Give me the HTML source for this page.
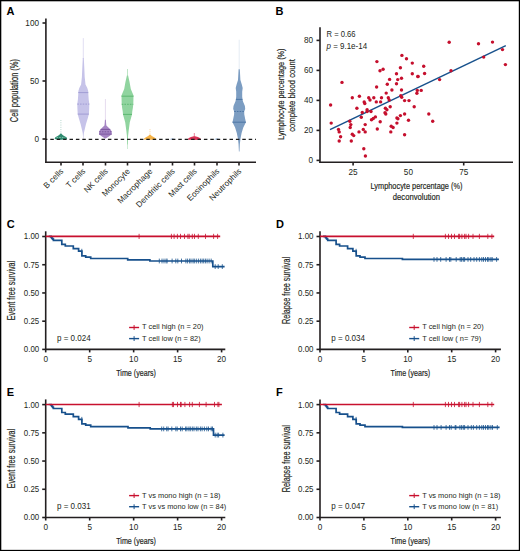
<!DOCTYPE html>
<html><head><meta charset="utf-8"><style>
html,body{margin:0;padding:0;background:#fff;}
svg{display:block;}
text{font-family:"Liberation Sans", sans-serif;}
</style></head><body>
<svg width="520" height="551" viewBox="0 0 520 551">
<rect x="0" y="0" width="520" height="551" fill="#fff"/>
<text x="6.40" y="15.00" font-size="11" fill="#000" font-weight="bold">A</text>
<line x1="45.90" y1="18.50" x2="45.90" y2="162.90" stroke="#231f20" stroke-width="1.6" />
<line x1="42.50" y1="23.00" x2="46.00" y2="23.00" stroke="#231f20" stroke-width="1.6" />
<text x="39.00" y="25.90" font-size="8.2" fill="#231f20" text-anchor="end">100</text>
<line x1="42.50" y1="81.00" x2="46.00" y2="81.00" stroke="#231f20" stroke-width="1.6" />
<text x="39.00" y="83.90" font-size="8.2" fill="#231f20" text-anchor="end">50</text>
<line x1="42.50" y1="139.00" x2="46.00" y2="139.00" stroke="#231f20" stroke-width="1.6" />
<text x="39.00" y="141.90" font-size="8.2" fill="#231f20" text-anchor="end">0</text>
<text x="18.00" y="90.60" font-size="10.4" fill="#231f20" text-anchor="middle" textLength="63.20" lengthAdjust="spacingAndGlyphs" transform="rotate(-90 18.00 90.60)" style="stroke:#231f20;stroke-width:0.18">Cell population (%)</text>
<line x1="45.20" y1="162.20" x2="256.00" y2="162.20" stroke="#231f20" stroke-width="1.6" />
<line x1="61.00" y1="162.00" x2="61.00" y2="165.50" stroke="#231f20" stroke-width="1.6" />
<text x="63.90" y="171.90" font-size="8.2" fill="#231f20" text-anchor="end" transform="rotate(-45 63.90 171.90)">B cells</text>
<line x1="83.00" y1="162.00" x2="83.00" y2="165.50" stroke="#231f20" stroke-width="1.6" />
<text x="85.90" y="171.90" font-size="8.2" fill="#231f20" text-anchor="end" transform="rotate(-45 85.90 171.90)">T cells</text>
<line x1="105.50" y1="162.00" x2="105.50" y2="165.50" stroke="#231f20" stroke-width="1.6" />
<text x="108.40" y="171.90" font-size="8.2" fill="#231f20" text-anchor="end" transform="rotate(-45 108.40 171.90)">NK cells</text>
<line x1="127.50" y1="162.00" x2="127.50" y2="165.50" stroke="#231f20" stroke-width="1.6" />
<text x="130.40" y="171.90" font-size="8.2" fill="#231f20" text-anchor="end" transform="rotate(-45 130.40 171.90)">Monocyte</text>
<line x1="150.00" y1="162.00" x2="150.00" y2="165.50" stroke="#231f20" stroke-width="1.6" />
<text x="152.90" y="171.90" font-size="8.2" fill="#231f20" text-anchor="end" transform="rotate(-45 152.90 171.90)">Macrophage</text>
<line x1="172.50" y1="162.00" x2="172.50" y2="165.50" stroke="#231f20" stroke-width="1.6" />
<text x="175.40" y="171.90" font-size="8.2" fill="#231f20" text-anchor="end" transform="rotate(-45 175.40 171.90)">Dendritic cells</text>
<line x1="194.50" y1="162.00" x2="194.50" y2="165.50" stroke="#231f20" stroke-width="1.6" />
<text x="197.40" y="171.90" font-size="8.2" fill="#231f20" text-anchor="end" transform="rotate(-45 197.40 171.90)">Mast cells</text>
<line x1="217.00" y1="162.00" x2="217.00" y2="165.50" stroke="#231f20" stroke-width="1.6" />
<text x="219.90" y="171.90" font-size="8.2" fill="#231f20" text-anchor="end" transform="rotate(-45 219.90 171.90)">Eosinophils</text>
<line x1="239.00" y1="162.00" x2="239.00" y2="165.50" stroke="#231f20" stroke-width="1.6" />
<text x="241.90" y="171.90" font-size="8.2" fill="#231f20" text-anchor="end" transform="rotate(-45 241.90 171.90)">Neutrophils</text>
<line x1="83.30" y1="38.10" x2="83.30" y2="59.00" stroke="#c8c5ea" stroke-width="1.0" stroke-opacity="0.55"/>
<path d="M82.80,58.00 L82.30,68.00 L81.90,77.00 L81.10,84.50 L79.30,88.00 L78.40,91.00 L78.20,95.00 L77.90,99.50 L77.30,104.00 L77.40,108.60 L77.70,114.00 L78.90,118.60 L80.60,124.00 L81.90,129.50 L82.70,133.00 L83.00,136.00 L83.10,139.00 L83.50,139.00 L83.60,136.00 L83.90,133.00 L84.70,129.50 L86.00,124.00 L87.70,118.60 L88.90,114.00 L89.20,108.60 L89.30,104.00 L88.70,99.50 L88.40,95.00 L88.20,91.00 L87.30,88.00 L85.50,84.50 L84.70,77.00 L84.30,68.00 L83.80,58.00Z" fill="#c6c3e9" fill-opacity="1.0"/>
<line x1="78.32" y1="92.60" x2="88.28" y2="92.60" stroke="#a19dd4" stroke-width="1.0" />
<line x1="77.30" y1="104.10" x2="89.30" y2="104.10" stroke="#a19dd4" stroke-width="1.0" stroke-dasharray="1.6 1.1"/>
<line x1="77.73" y1="114.10" x2="88.87" y2="114.10" stroke="#a19dd4" stroke-width="1.0" />
<line x1="105.40" y1="99.00" x2="105.40" y2="121.00" stroke="#b59ad0" stroke-width="0.8" stroke-opacity="0.45"/>
<path d="M104.95,119.70 L104.70,123.00 L104.45,125.40 L102.60,127.30 L100.70,129.20 L99.30,131.00 L99.00,134.30 L101.90,136.50 L105.10,138.60 L105.70,138.60 L108.90,136.50 L111.80,134.30 L111.50,131.00 L110.10,129.20 L108.20,127.30 L106.35,125.40 L106.10,123.00 L105.85,119.70Z" fill="#a585c3" fill-opacity="1.0"/>
<line x1="100.54" y1="129.40" x2="110.26" y2="129.40" stroke="#7b569e" stroke-width="1.0" />
<line x1="99.23" y1="131.80" x2="111.57" y2="131.80" stroke="#7b569e" stroke-width="1.0" stroke-dasharray="1.6 1.1"/>
<line x1="99.02" y1="134.10" x2="111.78" y2="134.10" stroke="#7b569e" stroke-width="1.0" />
<line x1="127.50" y1="69.00" x2="127.50" y2="76.00" stroke="#92d3a0" stroke-width="1.0" stroke-opacity="0.6"/>
<line x1="127.50" y1="136.00" x2="127.50" y2="149.00" stroke="#92d3a0" stroke-width="0.9" stroke-opacity="0.5"/>
<path d="M126.90,75.60 L125.50,81.80 L124.20,89.00 L122.10,94.10 L121.50,95.60 L121.60,100.00 L121.70,104.00 L122.10,107.70 L122.70,111.30 L123.00,114.50 L125.20,122.30 L126.40,131.30 L126.90,135.80 L127.20,144.50 L127.80,144.50 L128.10,135.80 L128.60,131.30 L129.80,122.30 L132.00,114.50 L132.30,111.30 L132.90,107.70 L133.30,104.00 L133.40,100.00 L133.50,95.60 L132.90,94.10 L130.80,89.00 L129.50,81.80 L128.10,75.60Z" fill="#90d49f" fill-opacity="1.0"/>
<line x1="121.51" y1="96.20" x2="133.49" y2="96.20" stroke="#5db871" stroke-width="1.0" />
<line x1="121.73" y1="104.30" x2="133.27" y2="104.30" stroke="#5db871" stroke-width="1.0" stroke-dasharray="1.6 1.1"/>
<line x1="122.99" y1="114.40" x2="132.01" y2="114.40" stroke="#5db871" stroke-width="1.0" />
<line x1="60.90" y1="120.00" x2="60.90" y2="133.80" stroke="#3a9277" stroke-width="0.9" stroke-opacity="0.45" stroke-dasharray="0.9 1.4"/>
<path d="M60.40,133.50 L59.70,134.50 L58.10,135.80 L55.30,137.30 L54.60,138.90 L57.90,139.50 L60.40,139.70 L61.40,139.70 L63.90,139.50 L67.20,138.90 L66.50,137.30 L63.70,135.80 L62.10,134.50 L61.40,133.50Z" fill="#2f8b70" fill-opacity="1.0"/>
<line x1="56.50" y1="137.50" x2="65.30" y2="137.50" stroke="#8cc9b5" stroke-width="0.8" stroke-dasharray="1.6 1.1"/>
<line x1="150.00" y1="129.10" x2="150.00" y2="135.00" stroke="#f4b04a" stroke-width="0.9" stroke-opacity="0.5" stroke-dasharray="1 0.8"/>
<path d="M149.50,134.80 L148.20,135.90 L145.90,137.30 L144.10,138.40 L143.90,139.40 L149.50,139.70 L150.50,139.70 L156.10,139.40 L155.90,138.40 L154.10,137.30 L151.80,135.90 L150.50,134.80Z" fill="#f6b347" fill-opacity="1.0"/>
<path d="M172.00,138.20 L169.30,139.20 L172.00,139.80 L172.60,139.80 L175.30,139.20 L172.60,138.20Z" fill="#a8c0dc" fill-opacity="1.0"/>
<line x1="194.30" y1="133.00" x2="194.30" y2="137.00" stroke="#d9214a" stroke-width="0.8" stroke-opacity="0.7"/>
<path d="M193.80,136.20 L190.90,136.90 L188.40,138.20 L188.10,139.70 L194.00,140.10 L194.80,140.10 L200.70,139.70 L200.40,138.20 L197.90,136.90 L195.00,136.20Z" fill="#d93356" fill-opacity="1.0"/>
<path d="M216.60,138.20 L213.90,139.20 L216.60,139.80 L217.20,139.80 L219.90,139.20 L217.20,138.20Z" fill="#a9c4e3" fill-opacity="1.0"/>
<line x1="239.20" y1="39.70" x2="239.20" y2="69.50" stroke="#7b9fc7" stroke-width="0.9" stroke-opacity="0.22"/>
<path d="M238.60,69.20 L238.00,79.90 L236.60,84.60 L235.70,88.10 L236.20,91.70 L236.20,96.40 L235.90,99.40 L235.40,101.50 L233.50,105.90 L233.20,109.10 L234.20,111.50 L234.10,114.60 L233.20,118.90 L232.50,122.20 L235.10,127.60 L236.80,133.10 L237.90,138.50 L238.55,144.00 L238.90,151.60 L239.50,151.60 L239.85,144.00 L240.50,138.50 L241.60,133.10 L243.30,127.60 L245.90,122.20 L245.20,118.90 L244.30,114.60 L244.20,111.50 L245.20,109.10 L244.90,105.90 L243.00,101.50 L242.50,99.40 L242.20,96.40 L242.20,91.70 L242.70,88.10 L241.80,84.60 L240.40,79.90 L239.80,69.20Z" fill="#7c9dc2" fill-opacity="1.0"/>
<line x1="235.90" y1="99.40" x2="242.50" y2="99.40" stroke="#4d76a5" stroke-width="1.0" />
<line x1="234.20" y1="111.50" x2="244.20" y2="111.50" stroke="#4d76a5" stroke-width="1.0" stroke-dasharray="1.6 1.1"/>
<line x1="232.50" y1="122.20" x2="245.90" y2="122.20" stroke="#4d76a5" stroke-width="1.0" />
<line x1="46.00" y1="139.40" x2="256.00" y2="139.40" stroke="#1a1a1a" stroke-width="1.25" stroke-dasharray="3.5 2.9" stroke-dashoffset="2.1"/>
<text x="275.50" y="15.00" font-size="11" fill="#000" font-weight="bold">B</text>
<line x1="320.00" y1="27.20" x2="320.00" y2="162.90" stroke="#231f20" stroke-width="1.6" />
<line x1="316.50" y1="160.40" x2="320.00" y2="160.40" stroke="#231f20" stroke-width="1.6" />
<text x="313.00" y="163.30" font-size="8.2" fill="#231f20" text-anchor="end">0</text>
<line x1="316.50" y1="130.40" x2="320.00" y2="130.40" stroke="#231f20" stroke-width="1.6" />
<text x="313.00" y="133.30" font-size="8.2" fill="#231f20" text-anchor="end">20</text>
<line x1="316.50" y1="100.40" x2="320.00" y2="100.40" stroke="#231f20" stroke-width="1.6" />
<text x="313.00" y="103.30" font-size="8.2" fill="#231f20" text-anchor="end">40</text>
<line x1="316.50" y1="70.40" x2="320.00" y2="70.40" stroke="#231f20" stroke-width="1.6" />
<text x="313.00" y="73.30" font-size="8.2" fill="#231f20" text-anchor="end">60</text>
<line x1="316.50" y1="40.40" x2="320.00" y2="40.40" stroke="#231f20" stroke-width="1.6" />
<text x="313.00" y="43.30" font-size="8.2" fill="#231f20" text-anchor="end">80</text>
<line x1="319.30" y1="162.20" x2="513.00" y2="162.20" stroke="#231f20" stroke-width="1.6" />
<line x1="353.10" y1="162.00" x2="353.10" y2="165.50" stroke="#231f20" stroke-width="1.6" />
<text x="353.10" y="174.70" font-size="8.2" fill="#231f20" text-anchor="middle">25</text>
<text x="408.40" y="174.70" font-size="8.2" fill="#231f20" text-anchor="middle">50</text>
<line x1="463.70" y1="162.00" x2="463.70" y2="165.50" stroke="#231f20" stroke-width="1.6" />
<text x="463.70" y="174.70" font-size="8.2" fill="#231f20" text-anchor="middle">75</text>
<text x="284.00" y="94.10" font-size="9.4" fill="#231f20" text-anchor="middle" textLength="91.30" lengthAdjust="spacingAndGlyphs" transform="rotate(-90 284.00 94.10)" style="stroke:#231f20;stroke-width:0.18">Lymphocyte percentage (%)</text>
<text x="295.50" y="95.40" font-size="9.4" fill="#231f20" text-anchor="middle" textLength="72.80" lengthAdjust="spacingAndGlyphs" transform="rotate(-90 295.50 95.40)" style="stroke:#231f20;stroke-width:0.18">complete blood count</text>
<text x="416.50" y="188.80" font-size="9.4" fill="#231f20" text-anchor="middle" textLength="92.00" lengthAdjust="spacingAndGlyphs" style="stroke:#231f20;stroke-width:0.18">Lymphocyte percentage (%)</text>
<text x="416.40" y="199.70" font-size="9.4" fill="#231f20" text-anchor="middle" textLength="47.20" lengthAdjust="spacingAndGlyphs" style="stroke:#231f20;stroke-width:0.18">deconvolution</text>
<text x="326.50" y="37.00" font-size="8.2" fill="#231f20" textLength="29.10" lengthAdjust="spacingAndGlyphs">R = 0.66</text>
<text x="326.5" y="49" font-size="8.2" fill="#231f20" textLength="40.6" lengthAdjust="spacingAndGlyphs"><tspan font-style="italic">p</tspan> = 9.1e-14</text>
<line x1="330.00" y1="129.60" x2="505.80" y2="45.60" stroke="#17518c" stroke-width="1.5" />
<circle cx="376.9" cy="61.6" r="1.7" fill="#c50f2d"/>
<circle cx="380.0" cy="70.7" r="1.7" fill="#c50f2d"/>
<circle cx="383.1" cy="69.2" r="1.7" fill="#c50f2d"/>
<circle cx="342.0" cy="82.4" r="1.7" fill="#c50f2d"/>
<circle cx="376.6" cy="87.0" r="1.7" fill="#c50f2d"/>
<circle cx="401.9" cy="55.4" r="1.7" fill="#c50f2d"/>
<circle cx="406.5" cy="58.7" r="1.7" fill="#c50f2d"/>
<circle cx="412.3" cy="63.1" r="1.7" fill="#c50f2d"/>
<circle cx="400.4" cy="67.7" r="1.7" fill="#c50f2d"/>
<circle cx="396.5" cy="73.7" r="1.7" fill="#c50f2d"/>
<circle cx="412.3" cy="73.7" r="1.7" fill="#c50f2d"/>
<circle cx="418.0" cy="76.5" r="1.7" fill="#c50f2d"/>
<circle cx="389.6" cy="79.4" r="1.7" fill="#c50f2d"/>
<circle cx="397.7" cy="79.6" r="1.7" fill="#c50f2d"/>
<circle cx="401.5" cy="78.3" r="1.7" fill="#c50f2d"/>
<circle cx="387.3" cy="84.2" r="1.7" fill="#c50f2d"/>
<circle cx="396.5" cy="83.8" r="1.7" fill="#c50f2d"/>
<circle cx="391.9" cy="90.0" r="1.7" fill="#c50f2d"/>
<circle cx="401.5" cy="90.0" r="1.7" fill="#c50f2d"/>
<circle cx="386.2" cy="93.1" r="1.7" fill="#c50f2d"/>
<circle cx="449.2" cy="42.3" r="1.7" fill="#c50f2d"/>
<circle cx="478.5" cy="43.7" r="1.7" fill="#c50f2d"/>
<circle cx="492.5" cy="42.1" r="1.7" fill="#c50f2d"/>
<circle cx="502.5" cy="49.6" r="1.7" fill="#c50f2d"/>
<circle cx="483.7" cy="57.1" r="1.7" fill="#c50f2d"/>
<circle cx="505.4" cy="64.6" r="1.7" fill="#c50f2d"/>
<circle cx="423.7" cy="66.2" r="1.7" fill="#c50f2d"/>
<circle cx="417.9" cy="76.5" r="1.7" fill="#c50f2d"/>
<circle cx="424.6" cy="73.5" r="1.7" fill="#c50f2d"/>
<circle cx="451.0" cy="70.8" r="1.7" fill="#c50f2d"/>
<circle cx="439.6" cy="79.6" r="1.7" fill="#c50f2d"/>
<circle cx="421.2" cy="90.4" r="1.7" fill="#c50f2d"/>
<circle cx="417.3" cy="90.4" r="1.7" fill="#c50f2d"/>
<circle cx="416.9" cy="93.3" r="1.7" fill="#c50f2d"/>
<circle cx="330.6" cy="105.0" r="1.7" fill="#c50f2d"/>
<circle cx="331.2" cy="123.1" r="1.7" fill="#c50f2d"/>
<circle cx="352.3" cy="97.7" r="1.7" fill="#c50f2d"/>
<circle cx="359.4" cy="96.2" r="1.7" fill="#c50f2d"/>
<circle cx="368.7" cy="97.7" r="1.7" fill="#c50f2d"/>
<circle cx="373.8" cy="97.7" r="1.7" fill="#c50f2d"/>
<circle cx="381.5" cy="97.7" r="1.7" fill="#c50f2d"/>
<circle cx="388.3" cy="97.7" r="1.7" fill="#c50f2d"/>
<circle cx="389.2" cy="100.0" r="1.7" fill="#c50f2d"/>
<circle cx="400.8" cy="95.8" r="1.7" fill="#c50f2d"/>
<circle cx="401.7" cy="97.3" r="1.7" fill="#c50f2d"/>
<circle cx="404.6" cy="100.6" r="1.7" fill="#c50f2d"/>
<circle cx="409.0" cy="100.6" r="1.7" fill="#c50f2d"/>
<circle cx="414.2" cy="106.7" r="1.7" fill="#c50f2d"/>
<circle cx="364.2" cy="101.9" r="1.7" fill="#c50f2d"/>
<circle cx="364.8" cy="103.5" r="1.7" fill="#c50f2d"/>
<circle cx="370.0" cy="100.0" r="1.7" fill="#c50f2d"/>
<circle cx="376.3" cy="101.9" r="1.7" fill="#c50f2d"/>
<circle cx="380.6" cy="101.9" r="1.7" fill="#c50f2d"/>
<circle cx="356.9" cy="108.3" r="1.7" fill="#c50f2d"/>
<circle cx="362.3" cy="112.5" r="1.7" fill="#c50f2d"/>
<circle cx="367.1" cy="109.8" r="1.7" fill="#c50f2d"/>
<circle cx="367.1" cy="111.5" r="1.7" fill="#c50f2d"/>
<circle cx="371.0" cy="111.5" r="1.7" fill="#c50f2d"/>
<circle cx="385.4" cy="108.3" r="1.7" fill="#c50f2d"/>
<circle cx="386.9" cy="109.8" r="1.7" fill="#c50f2d"/>
<circle cx="390.2" cy="106.7" r="1.7" fill="#c50f2d"/>
<circle cx="385.0" cy="112.7" r="1.7" fill="#c50f2d"/>
<circle cx="385.8" cy="114.0" r="1.7" fill="#c50f2d"/>
<circle cx="361.3" cy="117.3" r="1.7" fill="#c50f2d"/>
<circle cx="371.5" cy="119.8" r="1.7" fill="#c50f2d"/>
<circle cx="373.3" cy="118.5" r="1.7" fill="#c50f2d"/>
<circle cx="375.4" cy="116.9" r="1.7" fill="#c50f2d"/>
<circle cx="380.2" cy="121.7" r="1.7" fill="#c50f2d"/>
<circle cx="349.8" cy="121.2" r="1.7" fill="#c50f2d"/>
<circle cx="350.8" cy="124.6" r="1.7" fill="#c50f2d"/>
<circle cx="350.2" cy="127.5" r="1.7" fill="#c50f2d"/>
<circle cx="365.2" cy="124.6" r="1.7" fill="#c50f2d"/>
<circle cx="363.3" cy="129.4" r="1.7" fill="#c50f2d"/>
<circle cx="359.0" cy="131.9" r="1.7" fill="#c50f2d"/>
<circle cx="365.2" cy="131.9" r="1.7" fill="#c50f2d"/>
<circle cx="377.3" cy="129.0" r="1.7" fill="#c50f2d"/>
<circle cx="338.5" cy="129.4" r="1.7" fill="#c50f2d"/>
<circle cx="339.2" cy="131.9" r="1.7" fill="#c50f2d"/>
<circle cx="340.6" cy="136.7" r="1.7" fill="#c50f2d"/>
<circle cx="339.2" cy="141.0" r="1.7" fill="#c50f2d"/>
<circle cx="352.3" cy="134.2" r="1.7" fill="#c50f2d"/>
<circle cx="353.7" cy="135.6" r="1.7" fill="#c50f2d"/>
<circle cx="351.3" cy="141.0" r="1.7" fill="#c50f2d"/>
<circle cx="363.8" cy="148.7" r="1.7" fill="#c50f2d"/>
<circle cx="365.4" cy="156.0" r="1.7" fill="#c50f2d"/>
<circle cx="391.2" cy="126.2" r="1.7" fill="#c50f2d"/>
<circle cx="393.1" cy="127.5" r="1.7" fill="#c50f2d"/>
<circle cx="390.8" cy="131.9" r="1.7" fill="#c50f2d"/>
<circle cx="396.9" cy="117.9" r="1.7" fill="#c50f2d"/>
<circle cx="397.9" cy="118.8" r="1.7" fill="#c50f2d"/>
<circle cx="400.4" cy="115.6" r="1.7" fill="#c50f2d"/>
<circle cx="404.6" cy="114.0" r="1.7" fill="#c50f2d"/>
<circle cx="396.9" cy="123.1" r="1.7" fill="#c50f2d"/>
<circle cx="408.5" cy="120.2" r="1.7" fill="#c50f2d"/>
<circle cx="404.6" cy="134.8" r="1.7" fill="#c50f2d"/>
<circle cx="428.8" cy="114.0" r="1.7" fill="#c50f2d"/>
<circle cx="432.7" cy="121.3" r="1.7" fill="#c50f2d"/>
<text x="6.70" y="228.00" font-size="11" fill="#000" font-weight="bold">C</text>
<line x1="45.70" y1="231.30" x2="45.70" y2="350.00" stroke="#231f20" stroke-width="1.6" />
<line x1="42.20" y1="236.50" x2="45.70" y2="236.50" stroke="#231f20" stroke-width="1.6" />
<text x="39.20" y="239.40" font-size="8.2" fill="#231f20" text-anchor="end" textLength="15.40" lengthAdjust="spacingAndGlyphs">1.00</text>
<line x1="42.20" y1="264.73" x2="45.70" y2="264.73" stroke="#231f20" stroke-width="1.6" />
<text x="39.20" y="267.62" font-size="8.2" fill="#231f20" text-anchor="end" textLength="15.40" lengthAdjust="spacingAndGlyphs">0.75</text>
<line x1="42.20" y1="292.95" x2="45.70" y2="292.95" stroke="#231f20" stroke-width="1.6" />
<text x="39.20" y="295.85" font-size="8.2" fill="#231f20" text-anchor="end" textLength="15.40" lengthAdjust="spacingAndGlyphs">0.50</text>
<line x1="42.20" y1="321.18" x2="45.70" y2="321.18" stroke="#231f20" stroke-width="1.6" />
<text x="39.20" y="324.07" font-size="8.2" fill="#231f20" text-anchor="end" textLength="15.40" lengthAdjust="spacingAndGlyphs">0.25</text>
<line x1="42.20" y1="349.40" x2="45.70" y2="349.40" stroke="#231f20" stroke-width="1.6" />
<text x="39.20" y="352.30" font-size="8.2" fill="#231f20" text-anchor="end" textLength="15.40" lengthAdjust="spacingAndGlyphs">0.00</text>
<line x1="45.10" y1="349.40" x2="225.30" y2="349.40" stroke="#231f20" stroke-width="1.6" />
<line x1="45.70" y1="349.40" x2="45.70" y2="352.40" stroke="#231f20" stroke-width="1.6" />
<text x="45.70" y="361.70" font-size="8.2" fill="#231f20" text-anchor="middle">0</text>
<line x1="89.68" y1="349.40" x2="89.68" y2="352.40" stroke="#231f20" stroke-width="1.6" />
<text x="89.68" y="361.70" font-size="8.2" fill="#231f20" text-anchor="middle">5</text>
<line x1="133.65" y1="349.40" x2="133.65" y2="352.40" stroke="#231f20" stroke-width="1.6" />
<text x="133.65" y="361.70" font-size="8.2" fill="#231f20" text-anchor="middle">10</text>
<line x1="177.62" y1="349.40" x2="177.62" y2="352.40" stroke="#231f20" stroke-width="1.6" />
<text x="177.62" y="361.70" font-size="8.2" fill="#231f20" text-anchor="middle">15</text>
<line x1="221.60" y1="349.40" x2="221.60" y2="352.40" stroke="#231f20" stroke-width="1.6" />
<text x="221.60" y="361.70" font-size="8.2" fill="#231f20" text-anchor="middle">20</text>
<text x="136.10" y="375.60" font-size="9.8" fill="#231f20" text-anchor="middle" textLength="39.70" lengthAdjust="spacingAndGlyphs" style="stroke:#231f20;stroke-width:0.2">Time (years)</text>
<text x="15.40" y="290.50" font-size="10.4" fill="#231f20" text-anchor="middle" textLength="59.50" lengthAdjust="spacingAndGlyphs" transform="rotate(-90 15.40 290.50)" style="stroke:#231f20;stroke-width:0.18">Event free survival</text>
<line x1="129.10" y1="327.50" x2="139.10" y2="327.50" stroke="#c8102e" stroke-width="1.4" />
<line x1="134.10" y1="325.10" x2="134.10" y2="329.90" stroke="#c8102e" stroke-width="1.0" />
<text x="142.10" y="329.40" font-size="8.1" fill="#231f20" textLength="61.40" lengthAdjust="spacingAndGlyphs">T cell high (n = 20)</text>
<line x1="129.10" y1="338.60" x2="139.10" y2="338.60" stroke="#17508c" stroke-width="1.4" />
<line x1="134.10" y1="336.20" x2="134.10" y2="341.00" stroke="#17508c" stroke-width="1.0" />
<text x="142.10" y="340.50" font-size="8.1" fill="#231f20" textLength="58.50" lengthAdjust="spacingAndGlyphs">T cell low (n = 82)</text>
<text x="57.00" y="340.60" font-size="8.2" fill="#231f20" textLength="33.70" lengthAdjust="spacingAndGlyphs">p = 0.024</text>
<path d="M48.70,236.40 L51.10,236.40 L51.10,237.40 L51.90,237.40 L51.90,238.30 L52.70,238.30 L52.70,239.20 L53.40,239.20 L53.40,240.40 L61.80,240.40 L61.80,244.40 L65.30,244.40 L65.30,246.00 L73.30,246.00 L73.30,248.60 L78.60,248.60 L78.60,251.20 L81.90,251.20 L81.90,255.80 L85.70,255.80 L85.70,257.10 L90.70,257.10 L90.70,258.50 L127.70,258.50 L127.70,259.90 L149.90,259.90 L149.90,261.00 L212.80,261.00 L212.80,266.60 L224.60,266.60" fill="none" stroke="#17508c" stroke-width="1.7" stroke-linejoin="miter"/>
<line x1="81.80" y1="248.80" x2="81.80" y2="253.60" stroke="#17508c" stroke-width="0.8" />
<line x1="159.30" y1="258.60" x2="159.30" y2="263.40" stroke="#17508c" stroke-width="0.8" />
<line x1="162.00" y1="258.60" x2="162.00" y2="263.40" stroke="#17508c" stroke-width="0.8" />
<line x1="164.00" y1="258.60" x2="164.00" y2="263.40" stroke="#17508c" stroke-width="0.8" />
<line x1="166.00" y1="258.60" x2="166.00" y2="263.40" stroke="#17508c" stroke-width="0.8" />
<line x1="167.10" y1="258.60" x2="167.10" y2="263.40" stroke="#17508c" stroke-width="0.8" />
<line x1="172.10" y1="258.60" x2="172.10" y2="263.40" stroke="#17508c" stroke-width="0.8" />
<line x1="175.80" y1="258.60" x2="175.80" y2="263.40" stroke="#17508c" stroke-width="0.8" />
<line x1="177.80" y1="258.60" x2="177.80" y2="263.40" stroke="#17508c" stroke-width="0.8" />
<line x1="181.50" y1="258.60" x2="181.50" y2="263.40" stroke="#17508c" stroke-width="0.8" />
<line x1="185.90" y1="258.60" x2="185.90" y2="263.40" stroke="#17508c" stroke-width="0.8" />
<line x1="187.60" y1="258.60" x2="187.60" y2="263.40" stroke="#17508c" stroke-width="0.8" />
<line x1="189.60" y1="258.60" x2="189.60" y2="263.40" stroke="#17508c" stroke-width="0.8" />
<line x1="191.00" y1="258.60" x2="191.00" y2="263.40" stroke="#17508c" stroke-width="0.8" />
<line x1="193.00" y1="258.60" x2="193.00" y2="263.40" stroke="#17508c" stroke-width="0.8" />
<line x1="194.30" y1="258.60" x2="194.30" y2="263.40" stroke="#17508c" stroke-width="0.8" />
<line x1="196.30" y1="258.60" x2="196.30" y2="263.40" stroke="#17508c" stroke-width="0.8" />
<line x1="198.40" y1="258.60" x2="198.40" y2="263.40" stroke="#17508c" stroke-width="0.8" />
<line x1="200.40" y1="258.60" x2="200.40" y2="263.40" stroke="#17508c" stroke-width="0.8" />
<line x1="202.10" y1="258.60" x2="202.10" y2="263.40" stroke="#17508c" stroke-width="0.8" />
<line x1="203.70" y1="258.60" x2="203.70" y2="263.40" stroke="#17508c" stroke-width="0.8" />
<line x1="205.40" y1="258.60" x2="205.40" y2="263.40" stroke="#17508c" stroke-width="0.8" />
<line x1="207.10" y1="258.60" x2="207.10" y2="263.40" stroke="#17508c" stroke-width="0.8" />
<line x1="209.10" y1="258.60" x2="209.10" y2="263.40" stroke="#17508c" stroke-width="0.8" />
<line x1="211.20" y1="258.60" x2="211.20" y2="263.40" stroke="#17508c" stroke-width="0.8" />
<line x1="215.20" y1="264.20" x2="215.20" y2="269.00" stroke="#17508c" stroke-width="0.8" />
<line x1="218.20" y1="264.20" x2="218.20" y2="269.00" stroke="#17508c" stroke-width="0.8" />
<line x1="222.30" y1="264.20" x2="222.30" y2="269.00" stroke="#17508c" stroke-width="0.8" />
<line x1="45.70" y1="236.40" x2="220.20" y2="236.40" stroke="#c8102e" stroke-width="1.7" />
<line x1="139.10" y1="233.80" x2="139.10" y2="239.00" stroke="#c8102e" stroke-width="0.8" />
<line x1="171.40" y1="233.80" x2="171.40" y2="239.00" stroke="#c8102e" stroke-width="0.8" />
<line x1="174.10" y1="233.80" x2="174.10" y2="239.00" stroke="#c8102e" stroke-width="0.8" />
<line x1="177.40" y1="233.80" x2="177.40" y2="239.00" stroke="#c8102e" stroke-width="0.8" />
<line x1="180.50" y1="233.80" x2="180.50" y2="239.00" stroke="#c8102e" stroke-width="0.8" />
<line x1="184.50" y1="233.80" x2="184.50" y2="239.00" stroke="#c8102e" stroke-width="0.8" />
<line x1="187.90" y1="233.80" x2="187.90" y2="239.00" stroke="#c8102e" stroke-width="0.8" />
<line x1="189.20" y1="233.80" x2="189.20" y2="239.00" stroke="#c8102e" stroke-width="0.8" />
<line x1="192.30" y1="233.80" x2="192.30" y2="239.00" stroke="#c8102e" stroke-width="0.8" />
<line x1="194.50" y1="233.80" x2="194.50" y2="239.00" stroke="#c8102e" stroke-width="0.8" />
<line x1="198.30" y1="233.80" x2="198.30" y2="239.00" stroke="#c8102e" stroke-width="0.8" />
<line x1="205.50" y1="233.80" x2="205.50" y2="239.00" stroke="#c8102e" stroke-width="0.8" />
<line x1="213.60" y1="233.80" x2="213.60" y2="239.00" stroke="#c8102e" stroke-width="0.8" />
<line x1="217.60" y1="233.80" x2="217.60" y2="239.00" stroke="#c8102e" stroke-width="0.8" />
<text x="276.00" y="228.00" font-size="11" fill="#000" font-weight="bold">D</text>
<line x1="320.00" y1="231.30" x2="320.00" y2="350.00" stroke="#231f20" stroke-width="1.6" />
<line x1="316.50" y1="236.50" x2="320.00" y2="236.50" stroke="#231f20" stroke-width="1.6" />
<text x="313.50" y="239.40" font-size="8.2" fill="#231f20" text-anchor="end" textLength="15.40" lengthAdjust="spacingAndGlyphs">1.00</text>
<line x1="316.50" y1="264.73" x2="320.00" y2="264.73" stroke="#231f20" stroke-width="1.6" />
<text x="313.50" y="267.62" font-size="8.2" fill="#231f20" text-anchor="end" textLength="15.40" lengthAdjust="spacingAndGlyphs">0.75</text>
<line x1="316.50" y1="292.95" x2="320.00" y2="292.95" stroke="#231f20" stroke-width="1.6" />
<text x="313.50" y="295.85" font-size="8.2" fill="#231f20" text-anchor="end" textLength="15.40" lengthAdjust="spacingAndGlyphs">0.50</text>
<line x1="316.50" y1="321.18" x2="320.00" y2="321.18" stroke="#231f20" stroke-width="1.6" />
<text x="313.50" y="324.07" font-size="8.2" fill="#231f20" text-anchor="end" textLength="15.40" lengthAdjust="spacingAndGlyphs">0.25</text>
<line x1="316.50" y1="349.40" x2="320.00" y2="349.40" stroke="#231f20" stroke-width="1.6" />
<text x="313.50" y="352.30" font-size="8.2" fill="#231f20" text-anchor="end" textLength="15.40" lengthAdjust="spacingAndGlyphs">0.00</text>
<line x1="319.40" y1="349.40" x2="500.90" y2="349.40" stroke="#231f20" stroke-width="1.6" />
<line x1="320.00" y1="349.40" x2="320.00" y2="352.40" stroke="#231f20" stroke-width="1.6" />
<text x="320.00" y="361.70" font-size="8.2" fill="#231f20" text-anchor="middle">0</text>
<line x1="363.90" y1="349.40" x2="363.90" y2="352.40" stroke="#231f20" stroke-width="1.6" />
<text x="363.90" y="361.70" font-size="8.2" fill="#231f20" text-anchor="middle">5</text>
<line x1="407.80" y1="349.40" x2="407.80" y2="352.40" stroke="#231f20" stroke-width="1.6" />
<text x="407.80" y="361.70" font-size="8.2" fill="#231f20" text-anchor="middle">10</text>
<line x1="451.70" y1="349.40" x2="451.70" y2="352.40" stroke="#231f20" stroke-width="1.6" />
<text x="451.70" y="361.70" font-size="8.2" fill="#231f20" text-anchor="middle">15</text>
<line x1="495.60" y1="349.40" x2="495.60" y2="352.40" stroke="#231f20" stroke-width="1.6" />
<text x="495.60" y="361.70" font-size="8.2" fill="#231f20" text-anchor="middle">20</text>
<text x="410.40" y="375.60" font-size="9.8" fill="#231f20" text-anchor="middle" textLength="39.70" lengthAdjust="spacingAndGlyphs" style="stroke:#231f20;stroke-width:0.2">Time (years)</text>
<text x="289.80" y="290.50" font-size="10.4" fill="#231f20" text-anchor="middle" textLength="67.10" lengthAdjust="spacingAndGlyphs" transform="rotate(-90 289.80 290.50)" style="stroke:#231f20;stroke-width:0.18">Relapse free survival</text>
<line x1="409.20" y1="327.50" x2="419.20" y2="327.50" stroke="#c8102e" stroke-width="1.4" />
<line x1="414.20" y1="325.10" x2="414.20" y2="329.90" stroke="#c8102e" stroke-width="1.0" />
<text x="422.20" y="329.40" font-size="8.1" fill="#231f20" textLength="61.50" lengthAdjust="spacingAndGlyphs">T cell high (n = 20)</text>
<line x1="409.20" y1="338.60" x2="419.20" y2="338.60" stroke="#17508c" stroke-width="1.4" />
<line x1="414.20" y1="336.20" x2="414.20" y2="341.00" stroke="#17508c" stroke-width="1.0" />
<text x="422.20" y="340.50" font-size="8.1" fill="#231f20" textLength="59.00" lengthAdjust="spacingAndGlyphs">T cell low ( n= 79)</text>
<text x="331.30" y="340.60" font-size="8.2" fill="#231f20" textLength="33.70" lengthAdjust="spacingAndGlyphs">p = 0.034</text>
<path d="M323.00,236.40 L325.40,236.40 L325.40,237.40 L326.20,237.40 L326.20,238.30 L327.00,238.30 L327.00,239.20 L327.70,239.20 L327.70,240.40 L336.10,240.40 L336.10,244.40 L339.60,244.40 L339.60,246.00 L347.60,246.00 L347.60,248.60 L352.90,248.60 L352.90,251.20 L356.20,251.20 L356.20,255.80 L360.00,255.80 L360.00,257.10 L365.00,257.10 L365.00,258.50 L402.40,258.50 L402.40,259.40 L498.90,259.40" fill="none" stroke="#17508c" stroke-width="1.7" stroke-linejoin="miter"/>
<line x1="356.10" y1="248.80" x2="356.10" y2="253.60" stroke="#17508c" stroke-width="0.8" />
<line x1="434.00" y1="257.00" x2="434.00" y2="261.80" stroke="#17508c" stroke-width="0.8" />
<line x1="437.00" y1="257.00" x2="437.00" y2="261.80" stroke="#17508c" stroke-width="0.8" />
<line x1="440.70" y1="257.00" x2="440.70" y2="261.80" stroke="#17508c" stroke-width="0.8" />
<line x1="446.10" y1="257.00" x2="446.10" y2="261.80" stroke="#17508c" stroke-width="0.8" />
<line x1="449.50" y1="257.00" x2="449.50" y2="261.80" stroke="#17508c" stroke-width="0.8" />
<line x1="450.80" y1="257.00" x2="450.80" y2="261.80" stroke="#17508c" stroke-width="0.8" />
<line x1="456.20" y1="257.00" x2="456.20" y2="261.80" stroke="#17508c" stroke-width="0.8" />
<line x1="460.20" y1="257.00" x2="460.20" y2="261.80" stroke="#17508c" stroke-width="0.8" />
<line x1="461.60" y1="257.00" x2="461.60" y2="261.80" stroke="#17508c" stroke-width="0.8" />
<line x1="463.30" y1="257.00" x2="463.30" y2="261.80" stroke="#17508c" stroke-width="0.8" />
<line x1="464.60" y1="257.00" x2="464.60" y2="261.80" stroke="#17508c" stroke-width="0.8" />
<line x1="468.00" y1="257.00" x2="468.00" y2="261.80" stroke="#17508c" stroke-width="0.8" />
<line x1="470.70" y1="257.00" x2="470.70" y2="261.80" stroke="#17508c" stroke-width="0.8" />
<line x1="474.00" y1="257.00" x2="474.00" y2="261.80" stroke="#17508c" stroke-width="0.8" />
<line x1="476.70" y1="257.00" x2="476.70" y2="261.80" stroke="#17508c" stroke-width="0.8" />
<line x1="479.40" y1="257.00" x2="479.40" y2="261.80" stroke="#17508c" stroke-width="0.8" />
<line x1="481.80" y1="257.00" x2="481.80" y2="261.80" stroke="#17508c" stroke-width="0.8" />
<line x1="483.50" y1="257.00" x2="483.50" y2="261.80" stroke="#17508c" stroke-width="0.8" />
<line x1="485.50" y1="257.00" x2="485.50" y2="261.80" stroke="#17508c" stroke-width="0.8" />
<line x1="487.50" y1="257.00" x2="487.50" y2="261.80" stroke="#17508c" stroke-width="0.8" />
<line x1="488.80" y1="257.00" x2="488.80" y2="261.80" stroke="#17508c" stroke-width="0.8" />
<line x1="490.90" y1="257.00" x2="490.90" y2="261.80" stroke="#17508c" stroke-width="0.8" />
<line x1="492.20" y1="257.00" x2="492.20" y2="261.80" stroke="#17508c" stroke-width="0.8" />
<line x1="496.60" y1="257.00" x2="496.60" y2="261.80" stroke="#17508c" stroke-width="0.8" />
<line x1="320.00" y1="236.40" x2="494.20" y2="236.40" stroke="#c8102e" stroke-width="1.7" />
<line x1="413.30" y1="233.80" x2="413.30" y2="239.00" stroke="#c8102e" stroke-width="0.8" />
<line x1="445.40" y1="233.80" x2="445.40" y2="239.00" stroke="#c8102e" stroke-width="0.8" />
<line x1="448.50" y1="233.80" x2="448.50" y2="239.00" stroke="#c8102e" stroke-width="0.8" />
<line x1="451.50" y1="233.80" x2="451.50" y2="239.00" stroke="#c8102e" stroke-width="0.8" />
<line x1="454.50" y1="233.80" x2="454.50" y2="239.00" stroke="#c8102e" stroke-width="0.8" />
<line x1="458.60" y1="233.80" x2="458.60" y2="239.00" stroke="#c8102e" stroke-width="0.8" />
<line x1="459.60" y1="233.80" x2="459.60" y2="239.00" stroke="#c8102e" stroke-width="0.8" />
<line x1="461.90" y1="233.80" x2="461.90" y2="239.00" stroke="#c8102e" stroke-width="0.8" />
<line x1="464.60" y1="233.80" x2="464.60" y2="239.00" stroke="#c8102e" stroke-width="0.8" />
<line x1="466.00" y1="233.80" x2="466.00" y2="239.00" stroke="#c8102e" stroke-width="0.8" />
<line x1="468.60" y1="233.80" x2="468.60" y2="239.00" stroke="#c8102e" stroke-width="0.8" />
<line x1="473.00" y1="233.80" x2="473.00" y2="239.00" stroke="#c8102e" stroke-width="0.8" />
<line x1="479.40" y1="233.80" x2="479.40" y2="239.00" stroke="#c8102e" stroke-width="0.8" />
<line x1="487.80" y1="233.80" x2="487.80" y2="239.00" stroke="#c8102e" stroke-width="0.8" />
<line x1="491.90" y1="233.80" x2="491.90" y2="239.00" stroke="#c8102e" stroke-width="0.8" />
<text x="6.70" y="396.10" font-size="11" fill="#000" font-weight="bold">E</text>
<line x1="45.70" y1="399.40" x2="45.70" y2="518.10" stroke="#231f20" stroke-width="1.6" />
<line x1="42.20" y1="404.60" x2="45.70" y2="404.60" stroke="#231f20" stroke-width="1.6" />
<text x="39.20" y="407.50" font-size="8.2" fill="#231f20" text-anchor="end" textLength="15.40" lengthAdjust="spacingAndGlyphs">1.00</text>
<line x1="42.20" y1="432.83" x2="45.70" y2="432.83" stroke="#231f20" stroke-width="1.6" />
<text x="39.20" y="435.73" font-size="8.2" fill="#231f20" text-anchor="end" textLength="15.40" lengthAdjust="spacingAndGlyphs">0.75</text>
<line x1="42.20" y1="461.05" x2="45.70" y2="461.05" stroke="#231f20" stroke-width="1.6" />
<text x="39.20" y="463.95" font-size="8.2" fill="#231f20" text-anchor="end" textLength="15.40" lengthAdjust="spacingAndGlyphs">0.50</text>
<line x1="42.20" y1="489.28" x2="45.70" y2="489.28" stroke="#231f20" stroke-width="1.6" />
<text x="39.20" y="492.18" font-size="8.2" fill="#231f20" text-anchor="end" textLength="15.40" lengthAdjust="spacingAndGlyphs">0.25</text>
<line x1="42.20" y1="517.50" x2="45.70" y2="517.50" stroke="#231f20" stroke-width="1.6" />
<text x="39.20" y="520.40" font-size="8.2" fill="#231f20" text-anchor="end" textLength="15.40" lengthAdjust="spacingAndGlyphs">0.00</text>
<line x1="45.10" y1="517.50" x2="225.30" y2="517.50" stroke="#231f20" stroke-width="1.6" />
<line x1="45.70" y1="517.50" x2="45.70" y2="520.50" stroke="#231f20" stroke-width="1.6" />
<text x="45.70" y="529.80" font-size="8.2" fill="#231f20" text-anchor="middle">0</text>
<line x1="89.68" y1="517.50" x2="89.68" y2="520.50" stroke="#231f20" stroke-width="1.6" />
<text x="89.68" y="529.80" font-size="8.2" fill="#231f20" text-anchor="middle">5</text>
<line x1="133.65" y1="517.50" x2="133.65" y2="520.50" stroke="#231f20" stroke-width="1.6" />
<text x="133.65" y="529.80" font-size="8.2" fill="#231f20" text-anchor="middle">10</text>
<line x1="177.62" y1="517.50" x2="177.62" y2="520.50" stroke="#231f20" stroke-width="1.6" />
<text x="177.62" y="529.80" font-size="8.2" fill="#231f20" text-anchor="middle">15</text>
<line x1="221.60" y1="517.50" x2="221.60" y2="520.50" stroke="#231f20" stroke-width="1.6" />
<text x="221.60" y="529.80" font-size="8.2" fill="#231f20" text-anchor="middle">20</text>
<text x="136.10" y="543.70" font-size="9.8" fill="#231f20" text-anchor="middle" textLength="39.70" lengthAdjust="spacingAndGlyphs" style="stroke:#231f20;stroke-width:0.2">Time (years)</text>
<text x="15.40" y="458.60" font-size="10.4" fill="#231f20" text-anchor="middle" textLength="59.50" lengthAdjust="spacingAndGlyphs" transform="rotate(-90 15.40 458.60)" style="stroke:#231f20;stroke-width:0.18">Event free survival</text>
<line x1="129.10" y1="495.60" x2="139.10" y2="495.60" stroke="#c8102e" stroke-width="1.4" />
<line x1="134.10" y1="493.20" x2="134.10" y2="498.00" stroke="#c8102e" stroke-width="1.0" />
<text x="142.10" y="497.50" font-size="8.1" fill="#231f20" textLength="78.40" lengthAdjust="spacingAndGlyphs">T vs mono high (n = 18)</text>
<line x1="129.10" y1="506.70" x2="139.10" y2="506.70" stroke="#17508c" stroke-width="1.4" />
<line x1="134.10" y1="504.30" x2="134.10" y2="509.10" stroke="#17508c" stroke-width="1.0" />
<text x="142.10" y="508.60" font-size="8.1" fill="#231f20" textLength="84.10" lengthAdjust="spacingAndGlyphs">T vs vs mono low (n = 84)</text>
<text x="57.00" y="508.70" font-size="8.2" fill="#231f20" textLength="33.70" lengthAdjust="spacingAndGlyphs">p = 0.031</text>
<path d="M48.70,404.50 L51.10,404.50 L51.10,405.50 L51.90,405.50 L51.90,406.40 L52.70,406.40 L52.70,407.30 L53.40,407.30 L53.40,408.50 L61.80,408.50 L61.80,412.50 L65.30,412.50 L65.30,414.10 L73.30,414.10 L73.30,416.70 L78.60,416.70 L78.60,419.30 L81.90,419.30 L81.90,423.90 L85.70,423.90 L85.70,425.20 L90.70,425.20 L90.70,426.60 L128.00,426.60 L128.00,427.90 L150.20,427.90 L150.20,428.90 L213.50,428.90 L213.50,435.10 L224.60,435.10" fill="none" stroke="#17508c" stroke-width="1.7" stroke-linejoin="miter"/>
<line x1="81.80" y1="416.90" x2="81.80" y2="421.70" stroke="#17508c" stroke-width="0.8" />
<line x1="161.70" y1="426.50" x2="161.70" y2="431.30" stroke="#17508c" stroke-width="0.8" />
<line x1="163.70" y1="426.50" x2="163.70" y2="431.30" stroke="#17508c" stroke-width="0.8" />
<line x1="166.70" y1="426.50" x2="166.70" y2="431.30" stroke="#17508c" stroke-width="0.8" />
<line x1="168.10" y1="426.50" x2="168.10" y2="431.30" stroke="#17508c" stroke-width="0.8" />
<line x1="171.80" y1="426.50" x2="171.80" y2="431.30" stroke="#17508c" stroke-width="0.8" />
<line x1="175.80" y1="426.50" x2="175.80" y2="431.30" stroke="#17508c" stroke-width="0.8" />
<line x1="177.20" y1="426.50" x2="177.20" y2="431.30" stroke="#17508c" stroke-width="0.8" />
<line x1="180.50" y1="426.50" x2="180.50" y2="431.30" stroke="#17508c" stroke-width="0.8" />
<line x1="182.20" y1="426.50" x2="182.20" y2="431.30" stroke="#17508c" stroke-width="0.8" />
<line x1="185.60" y1="426.50" x2="185.60" y2="431.30" stroke="#17508c" stroke-width="0.8" />
<line x1="186.90" y1="426.50" x2="186.90" y2="431.30" stroke="#17508c" stroke-width="0.8" />
<line x1="188.90" y1="426.50" x2="188.90" y2="431.30" stroke="#17508c" stroke-width="0.8" />
<line x1="190.30" y1="426.50" x2="190.30" y2="431.30" stroke="#17508c" stroke-width="0.8" />
<line x1="192.30" y1="426.50" x2="192.30" y2="431.30" stroke="#17508c" stroke-width="0.8" />
<line x1="194.00" y1="426.50" x2="194.00" y2="431.30" stroke="#17508c" stroke-width="0.8" />
<line x1="196.30" y1="426.50" x2="196.30" y2="431.30" stroke="#17508c" stroke-width="0.8" />
<line x1="198.00" y1="426.50" x2="198.00" y2="431.30" stroke="#17508c" stroke-width="0.8" />
<line x1="200.40" y1="426.50" x2="200.40" y2="431.30" stroke="#17508c" stroke-width="0.8" />
<line x1="202.10" y1="426.50" x2="202.10" y2="431.30" stroke="#17508c" stroke-width="0.8" />
<line x1="204.40" y1="426.50" x2="204.40" y2="431.30" stroke="#17508c" stroke-width="0.8" />
<line x1="206.80" y1="426.50" x2="206.80" y2="431.30" stroke="#17508c" stroke-width="0.8" />
<line x1="208.50" y1="426.50" x2="208.50" y2="431.30" stroke="#17508c" stroke-width="0.8" />
<line x1="211.20" y1="426.50" x2="211.20" y2="431.30" stroke="#17508c" stroke-width="0.8" />
<line x1="212.50" y1="426.50" x2="212.50" y2="431.30" stroke="#17508c" stroke-width="0.8" />
<line x1="215.20" y1="432.70" x2="215.20" y2="437.50" stroke="#17508c" stroke-width="0.8" />
<line x1="217.20" y1="432.70" x2="217.20" y2="437.50" stroke="#17508c" stroke-width="0.8" />
<line x1="218.60" y1="432.70" x2="218.60" y2="437.50" stroke="#17508c" stroke-width="0.8" />
<line x1="222.90" y1="432.70" x2="222.90" y2="437.50" stroke="#17508c" stroke-width="0.8" />
<line x1="45.70" y1="404.50" x2="221.90" y2="404.50" stroke="#c8102e" stroke-width="1.7" />
<line x1="139.10" y1="401.90" x2="139.10" y2="407.10" stroke="#c8102e" stroke-width="0.8" />
<line x1="172.40" y1="401.90" x2="172.40" y2="407.10" stroke="#c8102e" stroke-width="0.8" />
<line x1="173.50" y1="401.90" x2="173.50" y2="407.10" stroke="#c8102e" stroke-width="0.8" />
<line x1="177.50" y1="401.90" x2="177.50" y2="407.10" stroke="#c8102e" stroke-width="0.8" />
<line x1="180.50" y1="401.90" x2="180.50" y2="407.10" stroke="#c8102e" stroke-width="0.8" />
<line x1="181.20" y1="401.90" x2="181.20" y2="407.10" stroke="#c8102e" stroke-width="0.8" />
<line x1="184.90" y1="401.90" x2="184.90" y2="407.10" stroke="#c8102e" stroke-width="0.8" />
<line x1="189.60" y1="401.90" x2="189.60" y2="407.10" stroke="#c8102e" stroke-width="0.8" />
<line x1="192.30" y1="401.90" x2="192.30" y2="407.10" stroke="#c8102e" stroke-width="0.8" />
<line x1="199.40" y1="401.90" x2="199.40" y2="407.10" stroke="#c8102e" stroke-width="0.8" />
<line x1="206.10" y1="401.90" x2="206.10" y2="407.10" stroke="#c8102e" stroke-width="0.8" />
<line x1="214.50" y1="401.90" x2="214.50" y2="407.10" stroke="#c8102e" stroke-width="0.8" />
<line x1="217.90" y1="401.90" x2="217.90" y2="407.10" stroke="#c8102e" stroke-width="0.8" />
<line x1="218.90" y1="401.90" x2="218.90" y2="407.10" stroke="#c8102e" stroke-width="0.8" />
<text x="276.00" y="396.10" font-size="11" fill="#000" font-weight="bold">F</text>
<line x1="320.00" y1="399.40" x2="320.00" y2="518.10" stroke="#231f20" stroke-width="1.6" />
<line x1="316.50" y1="404.60" x2="320.00" y2="404.60" stroke="#231f20" stroke-width="1.6" />
<text x="313.50" y="407.50" font-size="8.2" fill="#231f20" text-anchor="end" textLength="15.40" lengthAdjust="spacingAndGlyphs">1.00</text>
<line x1="316.50" y1="432.83" x2="320.00" y2="432.83" stroke="#231f20" stroke-width="1.6" />
<text x="313.50" y="435.73" font-size="8.2" fill="#231f20" text-anchor="end" textLength="15.40" lengthAdjust="spacingAndGlyphs">0.75</text>
<line x1="316.50" y1="461.05" x2="320.00" y2="461.05" stroke="#231f20" stroke-width="1.6" />
<text x="313.50" y="463.95" font-size="8.2" fill="#231f20" text-anchor="end" textLength="15.40" lengthAdjust="spacingAndGlyphs">0.50</text>
<line x1="316.50" y1="489.28" x2="320.00" y2="489.28" stroke="#231f20" stroke-width="1.6" />
<text x="313.50" y="492.18" font-size="8.2" fill="#231f20" text-anchor="end" textLength="15.40" lengthAdjust="spacingAndGlyphs">0.25</text>
<line x1="316.50" y1="517.50" x2="320.00" y2="517.50" stroke="#231f20" stroke-width="1.6" />
<text x="313.50" y="520.40" font-size="8.2" fill="#231f20" text-anchor="end" textLength="15.40" lengthAdjust="spacingAndGlyphs">0.00</text>
<line x1="319.40" y1="517.50" x2="500.90" y2="517.50" stroke="#231f20" stroke-width="1.6" />
<line x1="320.00" y1="517.50" x2="320.00" y2="520.50" stroke="#231f20" stroke-width="1.6" />
<text x="320.00" y="529.80" font-size="8.2" fill="#231f20" text-anchor="middle">0</text>
<line x1="363.90" y1="517.50" x2="363.90" y2="520.50" stroke="#231f20" stroke-width="1.6" />
<text x="363.90" y="529.80" font-size="8.2" fill="#231f20" text-anchor="middle">5</text>
<line x1="407.80" y1="517.50" x2="407.80" y2="520.50" stroke="#231f20" stroke-width="1.6" />
<text x="407.80" y="529.80" font-size="8.2" fill="#231f20" text-anchor="middle">10</text>
<line x1="451.70" y1="517.50" x2="451.70" y2="520.50" stroke="#231f20" stroke-width="1.6" />
<text x="451.70" y="529.80" font-size="8.2" fill="#231f20" text-anchor="middle">15</text>
<line x1="495.60" y1="517.50" x2="495.60" y2="520.50" stroke="#231f20" stroke-width="1.6" />
<text x="495.60" y="529.80" font-size="8.2" fill="#231f20" text-anchor="middle">20</text>
<text x="410.40" y="543.70" font-size="9.8" fill="#231f20" text-anchor="middle" textLength="39.70" lengthAdjust="spacingAndGlyphs" style="stroke:#231f20;stroke-width:0.2">Time (years)</text>
<text x="289.80" y="458.60" font-size="10.4" fill="#231f20" text-anchor="middle" textLength="67.10" lengthAdjust="spacingAndGlyphs" transform="rotate(-90 289.80 458.60)" style="stroke:#231f20;stroke-width:0.18">Relapse free survival</text>
<line x1="409.20" y1="495.60" x2="419.20" y2="495.60" stroke="#c8102e" stroke-width="1.4" />
<line x1="414.20" y1="493.20" x2="414.20" y2="498.00" stroke="#c8102e" stroke-width="1.0" />
<text x="422.20" y="497.50" font-size="8.1" fill="#231f20" textLength="78.30" lengthAdjust="spacingAndGlyphs">T vs mono high (n = 18)</text>
<line x1="409.20" y1="506.70" x2="419.20" y2="506.70" stroke="#17508c" stroke-width="1.4" />
<line x1="414.20" y1="504.30" x2="414.20" y2="509.10" stroke="#17508c" stroke-width="1.0" />
<text x="422.20" y="508.60" font-size="8.1" fill="#231f20" textLength="76.00" lengthAdjust="spacingAndGlyphs">T vs mono low (n = 81)</text>
<text x="331.30" y="508.70" font-size="8.2" fill="#231f20" textLength="33.70" lengthAdjust="spacingAndGlyphs">p = 0.047</text>
<path d="M323.00,404.50 L325.40,404.50 L325.40,405.50 L326.20,405.50 L326.20,406.40 L327.00,406.40 L327.00,407.30 L327.70,407.30 L327.70,408.50 L336.10,408.50 L336.10,412.50 L339.60,412.50 L339.60,414.10 L347.60,414.10 L347.60,416.70 L352.90,416.70 L352.90,419.30 L356.20,419.30 L356.20,423.90 L360.00,423.90 L360.00,425.20 L365.00,425.20 L365.00,426.60 L402.40,426.60 L402.40,427.40 L499.60,427.40" fill="none" stroke="#17508c" stroke-width="1.7" stroke-linejoin="miter"/>
<line x1="356.10" y1="416.90" x2="356.10" y2="421.70" stroke="#17508c" stroke-width="0.8" />
<line x1="434.00" y1="425.00" x2="434.00" y2="429.80" stroke="#17508c" stroke-width="0.8" />
<line x1="437.00" y1="425.00" x2="437.00" y2="429.80" stroke="#17508c" stroke-width="0.8" />
<line x1="441.10" y1="425.00" x2="441.10" y2="429.80" stroke="#17508c" stroke-width="0.8" />
<line x1="446.10" y1="425.00" x2="446.10" y2="429.80" stroke="#17508c" stroke-width="0.8" />
<line x1="449.50" y1="425.00" x2="449.50" y2="429.80" stroke="#17508c" stroke-width="0.8" />
<line x1="451.20" y1="425.00" x2="451.20" y2="429.80" stroke="#17508c" stroke-width="0.8" />
<line x1="455.20" y1="425.00" x2="455.20" y2="429.80" stroke="#17508c" stroke-width="0.8" />
<line x1="455.90" y1="425.00" x2="455.90" y2="429.80" stroke="#17508c" stroke-width="0.8" />
<line x1="459.90" y1="425.00" x2="459.90" y2="429.80" stroke="#17508c" stroke-width="0.8" />
<line x1="461.60" y1="425.00" x2="461.60" y2="429.80" stroke="#17508c" stroke-width="0.8" />
<line x1="463.30" y1="425.00" x2="463.30" y2="429.80" stroke="#17508c" stroke-width="0.8" />
<line x1="464.60" y1="425.00" x2="464.60" y2="429.80" stroke="#17508c" stroke-width="0.8" />
<line x1="468.00" y1="425.00" x2="468.00" y2="429.80" stroke="#17508c" stroke-width="0.8" />
<line x1="471.30" y1="425.00" x2="471.30" y2="429.80" stroke="#17508c" stroke-width="0.8" />
<line x1="473.40" y1="425.00" x2="473.40" y2="429.80" stroke="#17508c" stroke-width="0.8" />
<line x1="476.70" y1="425.00" x2="476.70" y2="429.80" stroke="#17508c" stroke-width="0.8" />
<line x1="479.40" y1="425.00" x2="479.40" y2="429.80" stroke="#17508c" stroke-width="0.8" />
<line x1="481.80" y1="425.00" x2="481.80" y2="429.80" stroke="#17508c" stroke-width="0.8" />
<line x1="483.50" y1="425.00" x2="483.50" y2="429.80" stroke="#17508c" stroke-width="0.8" />
<line x1="485.50" y1="425.00" x2="485.50" y2="429.80" stroke="#17508c" stroke-width="0.8" />
<line x1="487.50" y1="425.00" x2="487.50" y2="429.80" stroke="#17508c" stroke-width="0.8" />
<line x1="488.80" y1="425.00" x2="488.80" y2="429.80" stroke="#17508c" stroke-width="0.8" />
<line x1="490.90" y1="425.00" x2="490.90" y2="429.80" stroke="#17508c" stroke-width="0.8" />
<line x1="492.50" y1="425.00" x2="492.50" y2="429.80" stroke="#17508c" stroke-width="0.8" />
<line x1="497.30" y1="425.00" x2="497.30" y2="429.80" stroke="#17508c" stroke-width="0.8" />
<line x1="320.00" y1="404.50" x2="494.20" y2="404.50" stroke="#c8102e" stroke-width="1.7" />
<line x1="413.30" y1="401.90" x2="413.30" y2="407.10" stroke="#c8102e" stroke-width="0.8" />
<line x1="445.40" y1="401.90" x2="445.40" y2="407.10" stroke="#c8102e" stroke-width="0.8" />
<line x1="448.50" y1="401.90" x2="448.50" y2="407.10" stroke="#c8102e" stroke-width="0.8" />
<line x1="451.50" y1="401.90" x2="451.50" y2="407.10" stroke="#c8102e" stroke-width="0.8" />
<line x1="454.50" y1="401.90" x2="454.50" y2="407.10" stroke="#c8102e" stroke-width="0.8" />
<line x1="458.60" y1="401.90" x2="458.60" y2="407.10" stroke="#c8102e" stroke-width="0.8" />
<line x1="459.60" y1="401.90" x2="459.60" y2="407.10" stroke="#c8102e" stroke-width="0.8" />
<line x1="461.90" y1="401.90" x2="461.90" y2="407.10" stroke="#c8102e" stroke-width="0.8" />
<line x1="464.60" y1="401.90" x2="464.60" y2="407.10" stroke="#c8102e" stroke-width="0.8" />
<line x1="466.00" y1="401.90" x2="466.00" y2="407.10" stroke="#c8102e" stroke-width="0.8" />
<line x1="468.60" y1="401.90" x2="468.60" y2="407.10" stroke="#c8102e" stroke-width="0.8" />
<line x1="473.00" y1="401.90" x2="473.00" y2="407.10" stroke="#c8102e" stroke-width="0.8" />
<line x1="479.40" y1="401.90" x2="479.40" y2="407.10" stroke="#c8102e" stroke-width="0.8" />
<line x1="487.80" y1="401.90" x2="487.80" y2="407.10" stroke="#c8102e" stroke-width="0.8" />
<line x1="491.90" y1="401.90" x2="491.90" y2="407.10" stroke="#c8102e" stroke-width="0.8" />
<rect x="0" y="0" width="520" height="1.3" fill="#000"/>
<rect x="0" y="549.85" width="520" height="1.15" fill="#000"/>
<rect x="0" y="0" width="1.3" height="551" fill="#000"/>
<rect x="518.8" y="0" width="1.2" height="551" fill="#000"/>
</svg>
</body></html>
